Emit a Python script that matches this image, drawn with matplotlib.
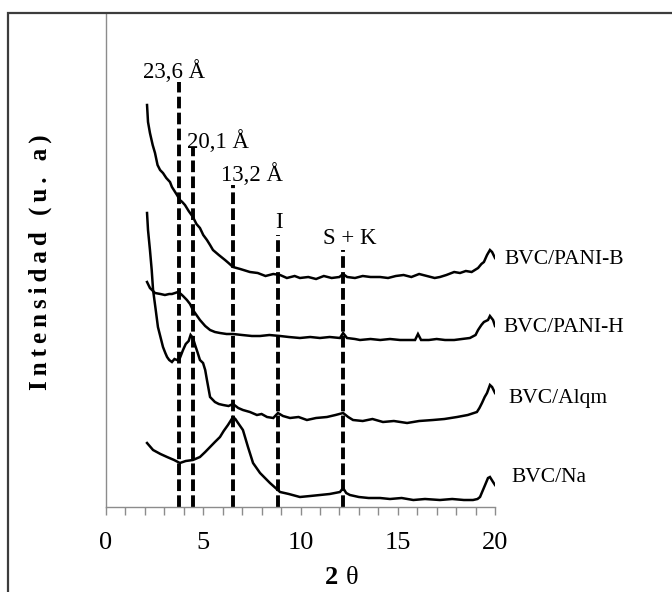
import numpy as np
import matplotlib
matplotlib.use("Agg")
import matplotlib.pyplot as plt
from matplotlib.patches import Rectangle
from matplotlib.ticker import MultipleLocator, FuncFormatter

plt.rcParams['font.family'] = ['Liberation Serif', 'DejaVu Serif']

# --- data (2 theta, intensity in arbitrary units) ---
pani_b_x = [2.11, 2.16, 2.26, 2.40, 2.52, 2.65, 2.78, 2.93, 3.10, 3.29,
            3.39, 3.52, 3.65, 3.80, 3.92, 4.06, 4.25, 4.47, 4.65, 4.83,
            5.00, 5.19, 5.35, 5.50, 5.80, 6.12, 6.30, 6.53, 6.90, 7.40,
            7.80, 8.20, 8.60, 8.95, 9.30, 9.70, 9.97, 10.40, 10.80, 11.20,
            11.60, 12.00, 12.19, 12.40, 12.80, 13.20, 13.60, 14.09, 14.50, 14.90,
            15.30, 15.70, 16.10, 16.50, 16.90, 17.17, 17.50, 17.90, 18.20, 18.50,
            18.80, 19.13, 19.30, 19.43, 19.59, 19.74, 19.85, 20.00]
pani_b_y = [402, 385, 374, 362, 354, 342, 337, 334, 329, 325,
            320, 316, 312, 307, 305, 302, 296, 290, 283, 279,
            272, 267, 262, 257, 252, 247, 244, 240, 238, 235,
            234, 231, 233, 232, 229, 231, 229, 230, 228, 231,
            229, 230, 233, 230, 229, 231, 230, 230, 229, 231,
            232, 230, 233, 231, 229, 230, 232, 235, 234, 236,
            235, 239, 243, 245, 252, 257, 255, 249]

pani_h_x = [2.11, 2.26, 2.52, 2.80, 3.03, 3.25, 3.39, 3.55, 3.70, 3.85,
            3.96, 4.16, 4.32, 4.47, 4.65, 4.83, 5.10, 5.35, 5.60, 5.86,
            6.20, 6.53, 7.00, 7.50, 7.92, 8.40, 8.95, 9.40, 9.97, 10.50,
            11.00, 11.50, 12.03, 12.19, 12.39, 12.80, 13.06, 13.60, 14.10, 14.60,
            15.12, 15.60, 15.89, 16.04, 16.20, 16.60, 17.00, 17.43, 17.90, 18.30,
            18.71, 19.00, 19.13, 19.30, 19.43, 19.64, 19.74, 19.90, 20.00]
pani_h_y = [225, 219, 214, 213, 212, 213, 213, 214, 215, 213,
            211, 207, 203, 197, 192, 187, 181, 177, 175, 174,
            173, 173, 172, 171, 171, 172, 171, 170, 169, 170,
            169, 170, 169, 174, 169, 168, 167, 168, 167, 168,
            167, 167, 167, 173, 167, 167, 168, 167, 167, 168,
            169, 172, 177, 182, 185, 187, 191, 187, 181]

alqm_x = [2.11, 2.16, 2.26, 2.35, 2.42, 2.55, 2.67, 2.80, 2.93, 3.05,
          3.14, 3.25, 3.39, 3.52, 3.65, 3.80, 3.96, 4.10, 4.25, 4.35,
          4.47, 4.58, 4.70, 4.83, 4.99, 5.10, 5.19, 5.35, 5.60, 5.80,
          6.02, 6.30, 6.53, 6.80, 7.04, 7.40, 7.76, 8.00, 8.28, 8.60,
          8.84, 9.10, 9.46, 9.90, 10.33, 10.80, 11.36, 11.80, 12.19, 12.45,
          12.70, 13.20, 13.70, 14.24, 14.80, 15.48, 16.10, 16.81, 17.40, 18.05,
          18.60, 19.07, 19.20, 19.33, 19.47, 19.59, 19.74, 19.85, 20.00]
alqm_y = [294, 277, 257, 237, 217, 198, 180, 170, 160, 154,
          150, 147, 145, 148, 147, 149, 157, 163, 166, 172,
          169, 162, 155, 147, 144, 137, 127, 110, 105, 103,
          102, 101, 103, 99, 97, 95, 92, 93, 90, 89,
          94, 91, 89, 90, 87, 89, 90, 92, 94, 90,
          87, 86, 88, 85, 86, 84, 86, 87, 88, 90,
          92, 95, 99, 104, 110, 114, 122, 120, 114]

na_x = [2.11, 2.42, 2.80, 3.14, 3.50, 3.80, 4.10, 4.47, 4.83, 5.10,
        5.35, 5.60, 5.86, 6.05, 6.27, 6.40, 6.53, 6.65, 6.79, 7.04,
        7.30, 7.56, 7.92, 8.43, 8.95, 9.40, 9.97, 10.50, 11.00, 11.50,
        12.03, 12.19, 12.35, 12.54, 13.00, 13.50, 14.09, 14.60, 15.20, 15.80,
        16.40, 17.17, 17.80, 18.40, 18.87, 19.10, 19.23, 19.36, 19.49, 19.64,
        19.74, 19.90, 20.00]
na_y = [64, 57, 53, 50, 47, 44, 46, 47, 50, 55,
        60, 65, 70, 76, 82, 86, 90, 88, 84, 77,
        60, 44, 34, 24, 15, 13, 10, 11, 12, 13,
        15, 19, 14, 12, 10, 9, 9, 8, 9, 7,
        8, 7, 8, 7, 7, 8, 10, 16, 22, 29,
        30, 25, 22]

series_names = ["BVC/PANI-B", "BVC/PANI-H", "BVC/Alqm", "BVC/Na"]

# reflections marked with dashed lines
peak_pos = [3.75, 4.45, 6.55, 8.85, 12.2]
peak_top = [425, 359, 322, 272, 257]
peak_labels = ["23,6 Å", "20,1 Å", "13,2 Å", "I", "S + K"]

fig = plt.figure(figsize=(6.72, 5.92), dpi=100)
ax = fig.add_axes([106 / 672, 1 - 507 / 592, (495 - 106) / 672, (507 - 13) / 592])

for xs, ys in [(pani_b_x, pani_b_y), (pani_h_x, pani_h_y), (alqm_x, alqm_y), (na_x, na_y)]:
    ax.plot(xs, ys, color='black', lw=1.8, solid_joinstyle='miter')

ax.vlines(peak_pos, 0, peak_top, colors='black', linestyles=(0, (3, 1.1)), lw=2.8)

# labels of the reflections
lab_xy = [(3.50, 435), (5.74, 365), (7.50, 332), (8.90, 285), (12.54, 269)]
for (tx, ty), s in zip(lab_xy, peak_labels):
    ax.text(tx, ty, s, ha='center', va='center', fontsize=16.5)

# curve names at the right
name_xy = [(20.51, 247), (20.41, 179), (20.67, 109), (20.82, 29)]
for (tx, ty), s in zip(name_xy, series_names):
    ax.text(tx, ty, s, ha='left', va='center', fontsize=15.5, clip_on=False)

ax.set_xlim(0, 20)
ax.set_ylim(0, 494)
ax.set_yticks([])
ax.xaxis.set_major_locator(MultipleLocator(1))
ax.xaxis.set_major_formatter(FuncFormatter(lambda v, p: "%d" % v if int(round(v)) % 5 == 0 else ""))
ax.tick_params(axis='x', direction='out', length=6, width=1, color='#8c8c8c',
               labelsize=19, pad=12)
for side in ['top', 'right']:
    ax.spines[side].set_visible(False)
for side in ['left', 'bottom']:
    ax.spines[side].set_color('#8c8c8c')
    ax.spines[side].set_linewidth(1)

# axis titles
fig.text(331 / 672, 1 - 578 / 592, "2", fontsize=19, fontweight='bold', ha='center', va='center')
fig.text(352 / 672, 1 - 578 / 592, "θ", fontsize=19, ha='center', va='center')
ylab = "\u2009".join("Intensidad (u. a)")
fig.text(40 / 672, 1 - 262 / 592, ylab, fontsize=18, fontweight='bold',
         rotation=90, ha='center', va='center')

# outer chart border (runs off the right and bottom edges)
top = 1 - 13 / 592
fig.add_artist(Rectangle((7.5 / 672, -0.2), 1.2, top + 0.2, transform=fig.transFigure,
                         fill=False, edgecolor='#3c3c3c', lw=1.6))

fig.savefig("out.png", dpi=100)
